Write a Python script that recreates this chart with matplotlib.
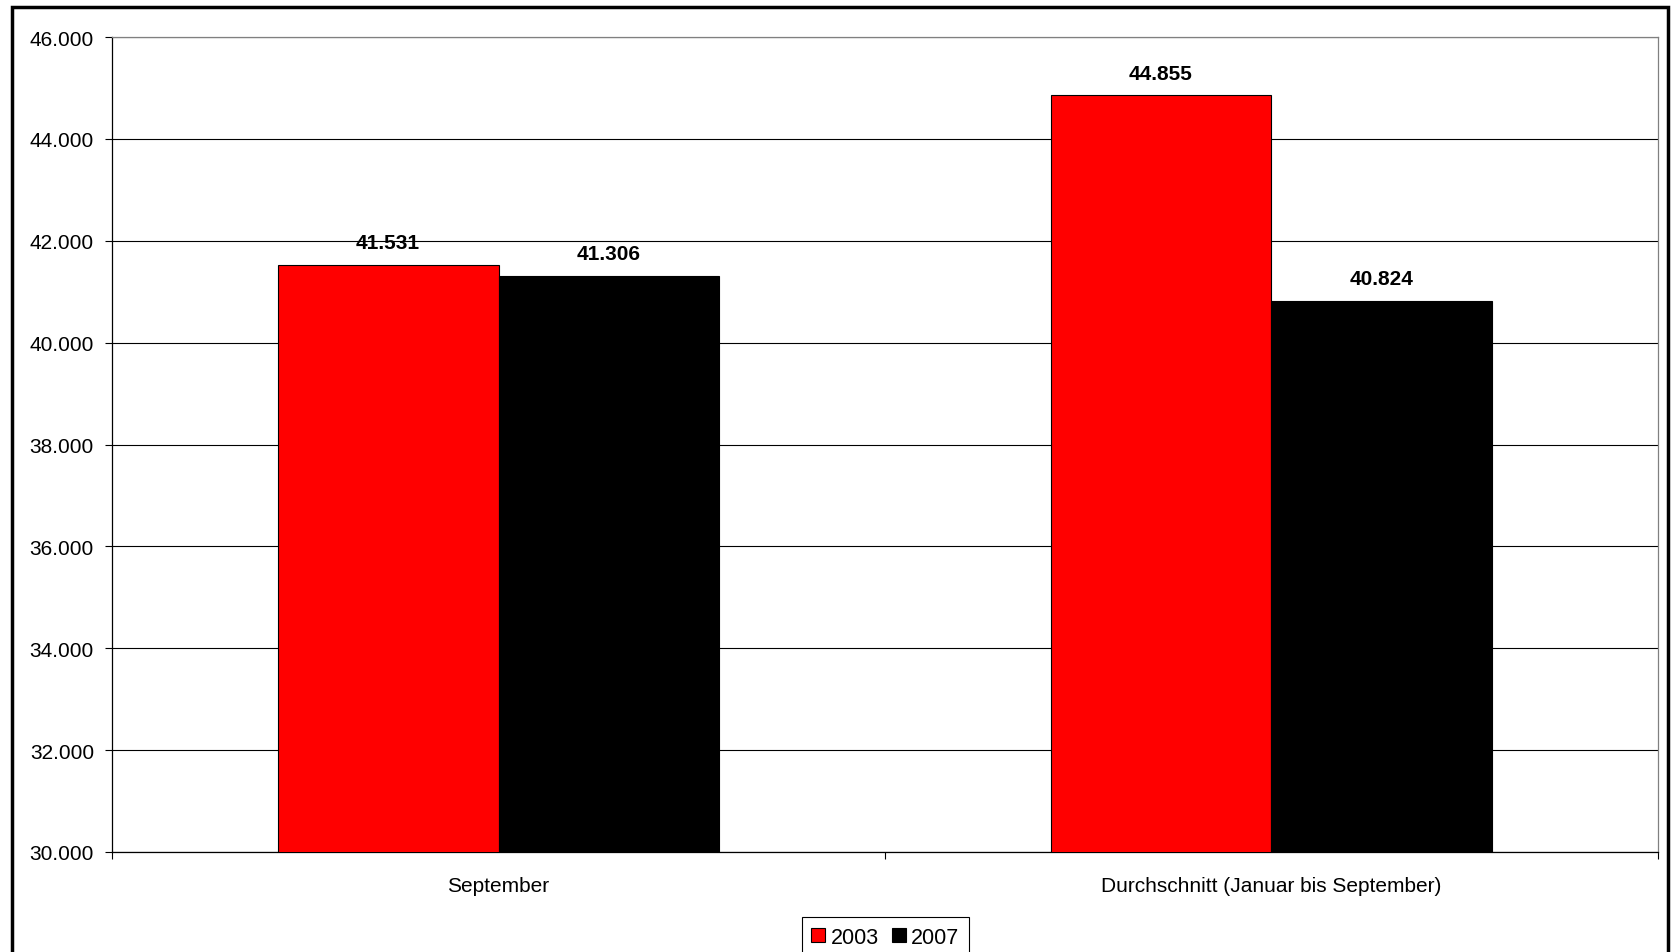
import matplotlib
matplotlib.use("Agg")
import matplotlib.pyplot as plt
import numpy as np
from matplotlib.patches import Rectangle
from matplotlib.ticker import FuncFormatter

plt.rcParams["font.family"] = ["Liberation Sans", "DejaVu Sans"]

categories = ["September", "Durchschnitt (Januar bis September)"]
years = ["2003", "2007"]
values_2003 = [41531, 44855]
values_2007 = [41306, 40824]
y_ticks = [30000, 32000, 34000, 36000, 38000, 40000, 42000, 44000, 46000]


def de_fmt(v, _pos=None):
    return f"{int(round(v)):,}".replace(",", ".")


fig = plt.figure(figsize=(16.72, 9.53), dpi=100)
ax = fig.add_axes([0.067, 0.105, 0.9246, 0.855])

x = np.arange(len(categories))
w = 1 / 3.5
series = [(values_2003, "#FF0000", years[0], -w / 2),
          (values_2007, "#000000", years[1], w / 2)]
for vals, color, lab, off in series:
    bars = ax.bar(x + off, vals, width=w, bottom=0, color=color,
                  edgecolor="black", linewidth=0.8, label=lab, zorder=3)
    for b, v in zip(bars, vals):
        ax.annotate(de_fmt(v), xy=(b.get_x() + b.get_width() / 2, v),
                    xytext=(0, 16), textcoords="offset points",
                    ha="center", va="center", fontsize=15, fontweight="bold")

ax.set_xlim(-0.5, 1.5)
ax.set_ylim(30000, 46000)
ax.set_yticks(y_ticks)
ax.yaxis.set_major_formatter(FuncFormatter(de_fmt))
ax.yaxis.grid(True, color="#000000", linewidth=0.8, zorder=0)
ax.set_axisbelow(True)

ax.set_xticks(x)
ax.set_xticklabels(categories)
ax.set_xticks([-0.5, 0.5, 1.5], minor=True)
ax.tick_params(axis="x", which="major", length=0, pad=17, labelsize=15)
ax.tick_params(axis="x", which="minor", length=5, width=0.8, direction="out")
ax.tick_params(axis="y", length=5, width=0.8, pad=8, labelsize=15)

ax.spines["left"].set_color("black")
ax.spines["bottom"].set_color("black")
ax.spines["top"].set_color("#808080")
ax.spines["right"].set_color("#808080")
for s in ax.spines.values():
    s.set_linewidth(0.9)

leg = fig.legend(loc="upper center", bbox_to_anchor=(0.5295, 1 - 918 / 953),
                 ncol=2, fontsize=15.5, frameon=True, fancybox=False,
                 edgecolor="black", framealpha=1, handlelength=0.65,
                 handleheight=0.65, handletextpad=0.25, columnspacing=0.6,
                 borderpad=0.45, borderaxespad=0)
leg.get_frame().set_linewidth(0.8)

# outer chart frame
fig.patches.append(Rectangle((12 / 1672, -0.05), (1668 - 12) / 1672,
                             1 - 8 / 953 + 0.05, transform=fig.transFigure,
                             fill=False, edgecolor="black", linewidth=2.5))

fig.savefig("out.png", dpi=100)
